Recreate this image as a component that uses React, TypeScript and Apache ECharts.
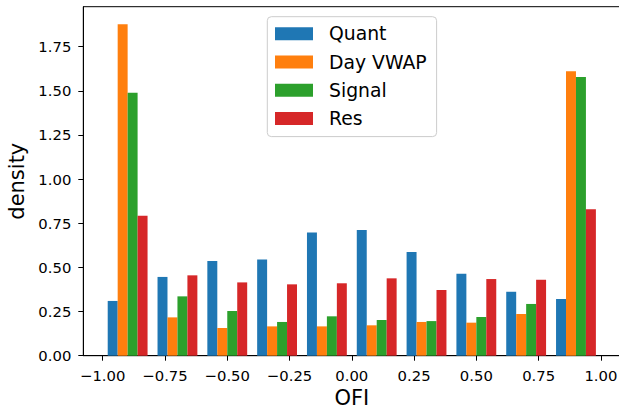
import React, { useEffect, useRef } from "react";
import * as echarts from "echarts";

// Histogram bins (left edges), width 0.2
const binStarts = [-1.0, -0.8, -0.6, -0.4, -0.2, 0.0, 0.2, 0.4, 0.6, 0.8];
const binWidth = 0.2;

const seriesNames = ["Quant", "Day VWAP", "Signal", "Res"];
const quant = [0.31, 0.446, 0.536, 0.544, 0.697, 0.712, 0.587, 0.464, 0.362, 0.321];
const dayVwap = [1.877, 0.217, 0.157, 0.166, 0.166, 0.172, 0.191, 0.187, 0.236, 1.61];
const signal = [1.489, 0.336, 0.253, 0.191, 0.223, 0.202, 0.196, 0.219, 0.293, 1.578];
const res = [0.793, 0.455, 0.415, 0.404, 0.41, 0.438, 0.372, 0.434, 0.43, 0.829];
const seriesValues = [quant, dayVwap, signal, res];
const colors = ["#1f77b4", "#ff7f0e", "#2ca02c", "#d62728"];

const xTicks = [-1.0, -0.75, -0.5, -0.25, 0.0, 0.25, 0.5, 0.75, 1.0];

const FONT = "DejaVu Sans";

const fmt = (v: number) => v.toFixed(2).replace("-", "\u2212");

export default function App() {
  const ref = useRef<HTMLDivElement>(null);
  useEffect(() => {
    document.body.style.margin = "0";
    const chart = echarts.init(ref.current!, null, { renderer: "svg" });
    const nSeries = seriesValues.length;
    const groupWidth = binWidth * 0.8;
    const barW = groupWidth / nSeries;
    const series = seriesValues.map((vals, si) => ({
      type: "custom",
      name: seriesNames[si],
      itemStyle: { color: colors[si] },
      encode: { x: 0, y: 1 },
      data: vals.map((v, i) => [binStarts[i], v]),
      renderItem: (params: any, api: any) => {
        const x0 = api.value(0) + binWidth * 0.1 + si * barW;
        const x1 = x0 + barW;
        const v = api.value(1);
        const p0 = api.coord([x0, v]);
        const p1 = api.coord([x1, 0]);
        return {
          type: "rect",
          shape: { x: p0[0], y: p0[1], width: p1[0] - p0[0], height: p1[1] - p0[1] },
          style: { fill: colors[si] },
        };
      },
    }));
    chart.setOption({
      animation: false,
      backgroundColor: "#ffffff",
      textStyle: { fontFamily: FONT },
      grid: {
        left: 83.3,
        top: 6.7,
        width: 537,
        height: 349,
        outerBoundsMode: "none",
        containLabel: false,
        show: true,
        borderColor: "#000",
        borderWidth: 1,
        backgroundColor: "transparent",
      },
      legend: {
        orient: "vertical",
        left: 267.3,
        top: 16.7,
        icon: "rect",
        itemWidth: 38,
        itemHeight: 13,
        itemGap: 8.3,
        padding: [7, 10, 8, 7.7],
        borderColor: "#cccccc",
        borderWidth: 1,
        borderRadius: 4,
        backgroundColor: "rgba(255,255,255,0.8)",
        textStyle: {
          fontFamily: FONT,
          fontSize: 18.8,
          lineHeight: 20,
          color: "#000",
          padding: [0, 0, 0, 11],
        },
        data: seriesNames,
      },
      xAxis: {
        type: "value",
        min: -1.078,
        max: 1.078,
        name: "OFI",
        nameLocation: "middle",
        nameGap: 32,
        nameTextStyle: { fontFamily: FONT, fontSize: 21, color: "#000" },
        splitLine: { show: false },
        axisLine: { show: true, onZero: false, lineStyle: { color: "#000", width: 1 } },
        axisTick: { show: true, length: 5, lineStyle: { color: "#000" }, customValues: xTicks },
        axisLabel: {
          fontFamily: FONT,
          fontSize: 14.8,
          color: "#000",
          margin: 12,
          customValues: xTicks,
          formatter: (v: number) => fmt(v),
        },
      },
      yAxis: {
        type: "value",
        min: 0,
        max: 1.976,
        interval: 0.25,
        name: "density",
        nameLocation: "middle",
        nameGap: 54,
        nameTextStyle: { fontFamily: FONT, fontSize: 21, color: "#000" },
        splitLine: { show: false },
        axisLine: { show: true, onZero: false, lineStyle: { color: "#000", width: 1 } },
        axisTick: { show: true, length: 5, lineStyle: { color: "#000" } },
        axisLabel: {
          fontFamily: FONT,
          fontSize: 14.8,
          color: "#000",
          margin: 12,
          showMaxLabel: false,
          formatter: (v: number) => fmt(v),
        },
      },
      series,
    });
    return () => chart.dispose();
  }, []);
  return <div ref={ref} style={{ width: 619, height: 410 }} />;
}
